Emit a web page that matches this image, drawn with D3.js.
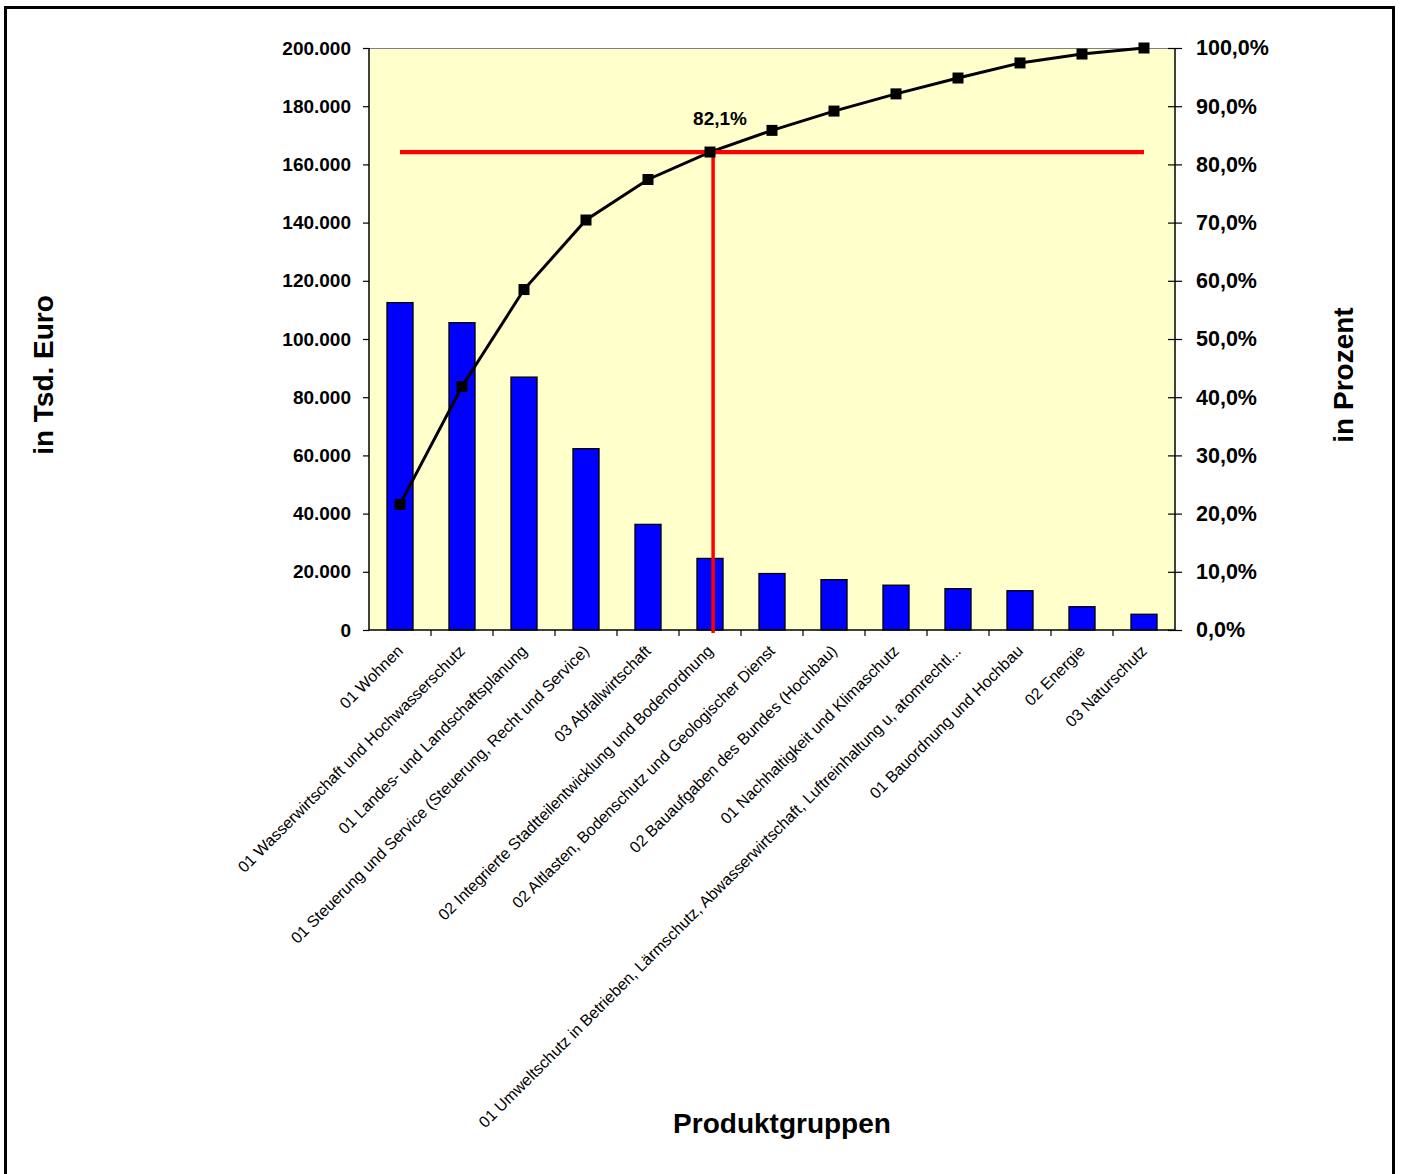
<!DOCTYPE html>
<html>
<head>
<meta charset="utf-8">
<script src="https://cdn.jsdelivr.net/npm/d3@7"></script>
<style>
  body { margin: 0; background: #ffffff; }
  svg { display: block; font-family: "Liberation Sans", Arial, sans-serif; }
</style>
</head>
<body>
<svg id="chart" width="1402" height="1174"></svg>
<script>
// Product groups, sorted by volume (Pareto order)
const categories = [
  "01 Wohnen",
  "01 Wasserwirtschaft und Hochwasserschutz",
  "01 Landes- und Landschaftsplanung",
  "01 Steuerung und Service (Steuerung, Recht und Service)",
  "03 Abfallwirtschaft",
  "02 Integrierte Stadtteilentwicklung und Bodenordnung",
  "02 Altlasten, Bodenschutz und Geologischer Dienst",
  "02 Bauaufgaben des Bundes (Hochbau)",
  "01 Nachhaltigkeit und Klimaschutz",
  "01 Umweltschutz in Betrieben, Lärmschutz, Abwasserwirtschaft, Luftreinhaltung u, atomrechtl...",
  "01 Bauordnung und Hochbau",
  "02 Energie",
  "03 Naturschutz"
];

// Volume per product group, in Tsd. Euro
const amounts = [112500, 105600, 86900, 62300, 36300, 24600, 19400, 17300, 15400, 14200, 13500, 8000, 5400];

// Axis ticks
const amountTicks = [0, 20000, 40000, 60000, 80000, 100000, 120000, 140000, 160000, 180000, 200000];
const percentTicks = [0, 10, 20, 30, 40, 50, 60, 70, 80, 90, 100];

// Index of the group where the cumulative share crosses the marked threshold
const cutoffIndex = 5;

// Cumulative share in percent
const total = d3.sum(amounts);
const cumulative = d3.cumsum(amounts).map(v => v / total * 100);

const de = d3.formatLocale({ decimal: ",", thousands: ".", grouping: [3], currency: ["", " €"] });
const fmtAmount = de.format(",.0f");
const fmtPercent = v => de.format(".1f")(v) + "%";

const svg = d3.select("#chart");

// Plot geometry
const plot = { left: 369, right: 1175, top: 48, bottom: 630 };

const x = d3.scaleBand().domain(categories).range([plot.left, plot.right]).padding(0);
const y = d3.scaleLinear().domain([0, 200000]).range([plot.bottom, plot.top]);
const yPct = d3.scaleLinear().domain([0, 100]).range([plot.bottom, plot.top]);
const cx = c => x(c) + x.bandwidth() / 2;

// Outer frame
svg.append("rect")
  .attr("x", 5.5).attr("y", 7.5)
  .attr("width", 1388).attr("height", 1180)
  .attr("fill", "none").attr("stroke", "#000").attr("stroke-width", 3);

// Plot background
svg.append("rect")
  .attr("x", plot.left).attr("y", plot.top)
  .attr("width", plot.right - plot.left).attr("height", plot.bottom - plot.top)
  .attr("fill", "#FFFFCC");
svg.append("line")
  .attr("x1", plot.left).attr("x2", plot.right)
  .attr("y1", plot.top + 0.5).attr("y2", plot.top + 0.5)
  .attr("stroke", "#808080").attr("stroke-width", 1);

// Bars
const barW = x.bandwidth() * 0.42;
svg.append("g").selectAll("rect")
  .data(amounts)
  .join("rect")
  .attr("x", (d, i) => cx(categories[i]) - barW / 2)
  .attr("y", d => y(d))
  .attr("width", barW)
  .attr("height", d => y(0) - y(d))
  .attr("fill", "#0000FF")
  .attr("stroke", "#000")
  .attr("stroke-width", 1.3);

// Left axis (amounts)
const axL = svg.append("g")
  .attr("transform", `translate(${plot.left},0)`)
  .call(d3.axisLeft(y).tickValues(amountTicks).tickSize(6).tickPadding(12).tickFormat(fmtAmount));
axL.select(".domain").attr("stroke", "#000").attr("stroke-width", 1.5).attr("d", `M0,${plot.top}V${plot.bottom}`);
axL.selectAll(".tick line").attr("stroke", "#000").attr("stroke-width", 1.2);
axL.selectAll(".tick text")
  .attr("font-family", "'Liberation Sans', Arial, sans-serif")
  .attr("font-size", 19).attr("font-weight", "bold").attr("fill", "#000");

// Right axis (cumulative percent)
const axR = svg.append("g")
  .attr("transform", `translate(${plot.right},0)`)
  .call(d3.axisRight(yPct).tickValues(percentTicks).tickSize(7).tickPadding(14).tickFormat(fmtPercent));
axR.select(".domain").attr("stroke", "#000").attr("stroke-width", 1.5).attr("d", `M0,${plot.top}V${plot.bottom}`);
axR.selectAll(".tick line").attr("x1", -7).attr("x2", 7).attr("stroke", "#000").attr("stroke-width", 1.2);
axR.selectAll(".tick text")
  .attr("font-family", "'Liberation Sans', Arial, sans-serif")
  .attr("font-size", 21.5).attr("font-weight", "bold").attr("fill", "#000");

// Category axis
const axB = svg.append("g")
  .attr("transform", `translate(0,${plot.bottom})`);
axB.append("line")
  .attr("x1", plot.left).attr("x2", plot.right)
  .attr("stroke", "#000").attr("stroke-width", 1.5);
axB.selectAll("line.tick")
  .data(categories.slice(1))
  .join("line")
  .attr("class", "tick")
  .attr("x1", c => x(c)).attr("x2", c => x(c))
  .attr("y1", 0).attr("y2", 6)
  .attr("stroke", "#000").attr("stroke-width", 1.2);
axB.selectAll("text")
  .data(categories)
  .join("text")
  .attr("transform", c => `translate(${cx(c) + 4},22) rotate(-45)`)
  .attr("text-anchor", "end")
  .attr("font-size", 16)
  .attr("fill", "#000")
  .text(c => c);

// Cumulative share line with markers
const line = d3.line()
  .x((d, i) => cx(categories[i]))
  .y(d => yPct(d));
svg.append("path")
  .datum(cumulative)
  .attr("d", line)
  .attr("fill", "none")
  .attr("stroke", "#000")
  .attr("stroke-width", 3);

// Threshold marker lines (red)
const cutY = yPct(cumulative[cutoffIndex]);
const cutX = cx(categories[cutoffIndex]) + x.bandwidth() * 0.05;
svg.append("line")
  .attr("x1", cutX).attr("x2", cutX)
  .attr("y1", cutY).attr("y2", plot.bottom + 3)
  .attr("stroke", "#FF0000").attr("stroke-width", 3.5);
svg.append("line")
  .attr("x1", cx(categories[0])).attr("x2", cx(categories[categories.length - 1]))
  .attr("y1", cutY).attr("y2", cutY)
  .attr("stroke", "#FF0000").attr("stroke-width", 4.3);

const ms = 11;
svg.append("g").selectAll("rect")
  .data(cumulative)
  .join("rect")
  .attr("x", (d, i) => cx(categories[i]) - ms / 2)
  .attr("y", d => yPct(d) - ms / 2)
  .attr("width", ms).attr("height", ms)
  .attr("fill", "#000");

// Threshold label
svg.append("text")
  .attr("x", cx(categories[cutoffIndex]) + 10)
  .attr("y", yPct(cumulative[cutoffIndex]) - 27)
  .attr("text-anchor", "middle")
  .attr("font-size", 19).attr("font-weight", "bold").attr("fill", "#000")
  .text(fmtPercent(cumulative[cutoffIndex]));

// Axis titles
svg.append("text")
  .attr("transform", `translate(53,375) rotate(-90)`)
  .attr("text-anchor", "middle")
  .attr("font-size", 28).attr("font-weight", "bold").attr("fill", "#000")
  .text("in Tsd. Euro");
svg.append("text")
  .attr("transform", `translate(1353,375) rotate(-90)`)
  .attr("text-anchor", "middle")
  .attr("font-size", 28).attr("font-weight", "bold").attr("fill", "#000")
  .text("in Prozent");
svg.append("text")
  .attr("x", 782).attr("y", 1133)
  .attr("text-anchor", "middle")
  .attr("font-size", 28).attr("font-weight", "bold").attr("fill", "#000")
  .text("Produktgruppen");
</script>
</body>
</html>
